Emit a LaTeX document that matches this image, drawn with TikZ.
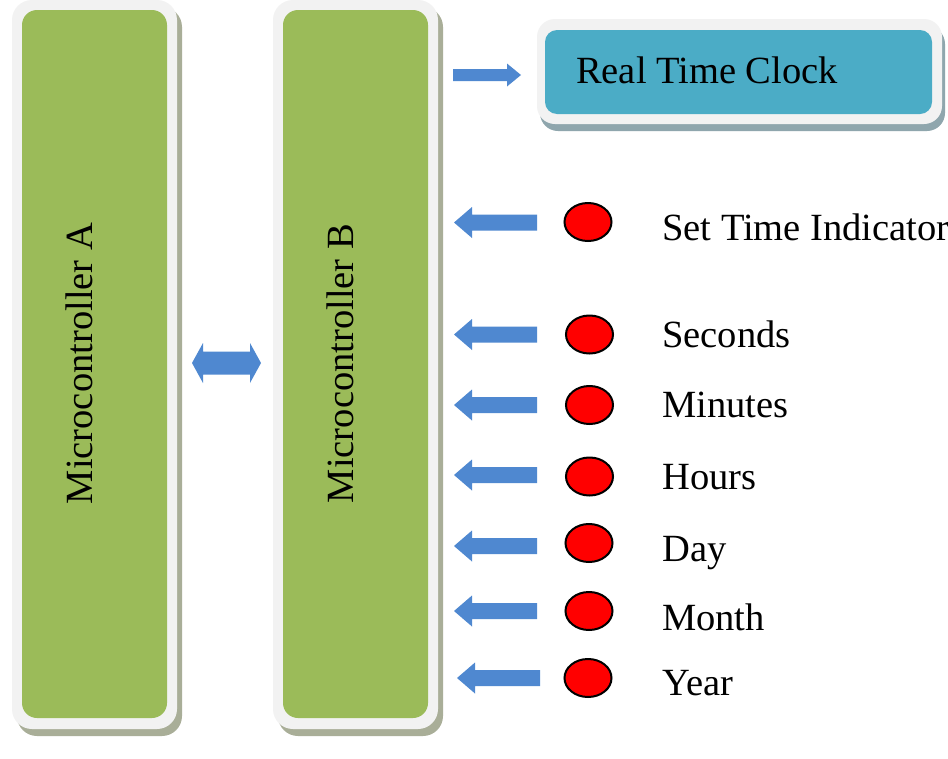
\documentclass[tikz,border=0pt]{standalone}
\usepackage{fontspec}
\setmainfont{Liberation Serif}
\usetikzlibrary{shapes.geometric}
\definecolor{mcgreen}{HTML}{9BBB59}
\definecolor{framegray}{HTML}{F2F2F2}
\definecolor{mcshadow}{HTML}{A9AE98}
\definecolor{rtcteal}{HTML}{4BACC6}
\definecolor{rtcshadow}{HTML}{8FA6AD}
\definecolor{arrowblue}{HTML}{4F88D0}
\tikzset{
  lbl/.style={font=\fontsize{38.5}{40}\selectfont, inner sep=0pt, text=black},
  led/.style={ellipse, draw=black, line width=2pt, fill=red, minimum width=47pt, minimum height=38pt, inner sep=0pt},
  blockarrow/.style={fill=arrowblue},
}
\newcommand{\leftarr}[3]{% tip x, shaft end x, center y
  \fill[blockarrow] (#1,#3) -- (#1+18,#3-15.5) -- (#1+18,#3-8) -- (#2,#3-8) -- (#2,#3+8) -- (#1+18,#3+8) -- (#1+18,#3+15.5) -- cycle;}
\begin{document}
\begin{tikzpicture}[x=1pt,y=-1pt]
\useasboundingbox (0,0) rectangle (948,758);
\fill[white] (0,0) rectangle (948,758);
% Microcontroller A
\fill[mcshadow, rounded corners=20pt] (17,7) rectangle (182,736);
\fill[framegray, rounded corners=20pt] (12,0) rectangle (177,729);
\fill[mcgreen, rounded corners=15pt] (22,10) rectangle (167,718);
\node[lbl, rotate=90, anchor=base] (mca) at (92.7,363.5) {Microcontroller A};
% Microcontroller B
\fill[mcshadow, rounded corners=20pt] (278,7) rectangle (443,736);
\fill[framegray, rounded corners=20pt] (273,0) rectangle (438,729);
\fill[mcgreen, rounded corners=15pt] (283,10) rectangle (428,718);
\node[lbl, rotate=90, anchor=base] (mcb) at (353,363.5) {Microcontroller B};
% Real Time Clock
\fill[rtcshadow, rounded corners=18pt] (540,26) rectangle (945,131);
\fill[framegray, rounded corners=18pt] (537,19) rectangle (942,124);
\fill[rtcteal, rounded corners=12pt] (545,30) rectangle (932,114);
\node[lbl, anchor=base west] (rtc) at (576,83) {Real Time Clock};
% arrow to RTC
\fill[blockarrow] (521,75) -- (507,63.5) -- (507,69) -- (453,69) -- (453,81) -- (507,81) -- (507,86.5) -- cycle;
% double arrow between controllers
\fill[blockarrow] (192,363) -- (203,343) -- (203,351.5) -- (250,351.5) -- (250,343) -- (261,363) -- (250,383) -- (250,374.5) -- (203,374.5) -- (203,383) -- cycle;
% indicators
\node[led] (l1) at (588,222) {};
\node[led] (l2) at (589.5,334.5) {};
\node[led] (l3) at (589.5,405) {};
\node[led] (l4) at (589.5,476.5) {};
\node[led] (l5) at (589,543) {};
\node[led] (l6) at (589,611) {};
\node[led] (l7) at (588,678) {};
\node[lbl, anchor=base west] (t1) at (662,240) {Set Time Indicator};
\node[lbl, anchor=base west] (t2) at (662,347) {Seconds};
\node[lbl, anchor=base west] (t3) at (662,417) {Minutes};
\node[lbl, anchor=base west] (t4) at (662,489) {Hours};
\node[lbl, anchor=base west] (t5) at (662,561) {Day};
\node[lbl, anchor=base west] (t6) at (662,630) {Month};
\node[lbl, anchor=base west] (t7) at (662,695) {Year};
% input arrows
\leftarr{454}{537}{222.5}
\leftarr{454}{537}{334.5}
\leftarr{454}{537}{405}
\leftarr{454}{537}{475}
\leftarr{454}{537}{546}
\leftarr{454}{537}{611}
\leftarr{457}{540}{678}
\end{tikzpicture}
\end{document}
